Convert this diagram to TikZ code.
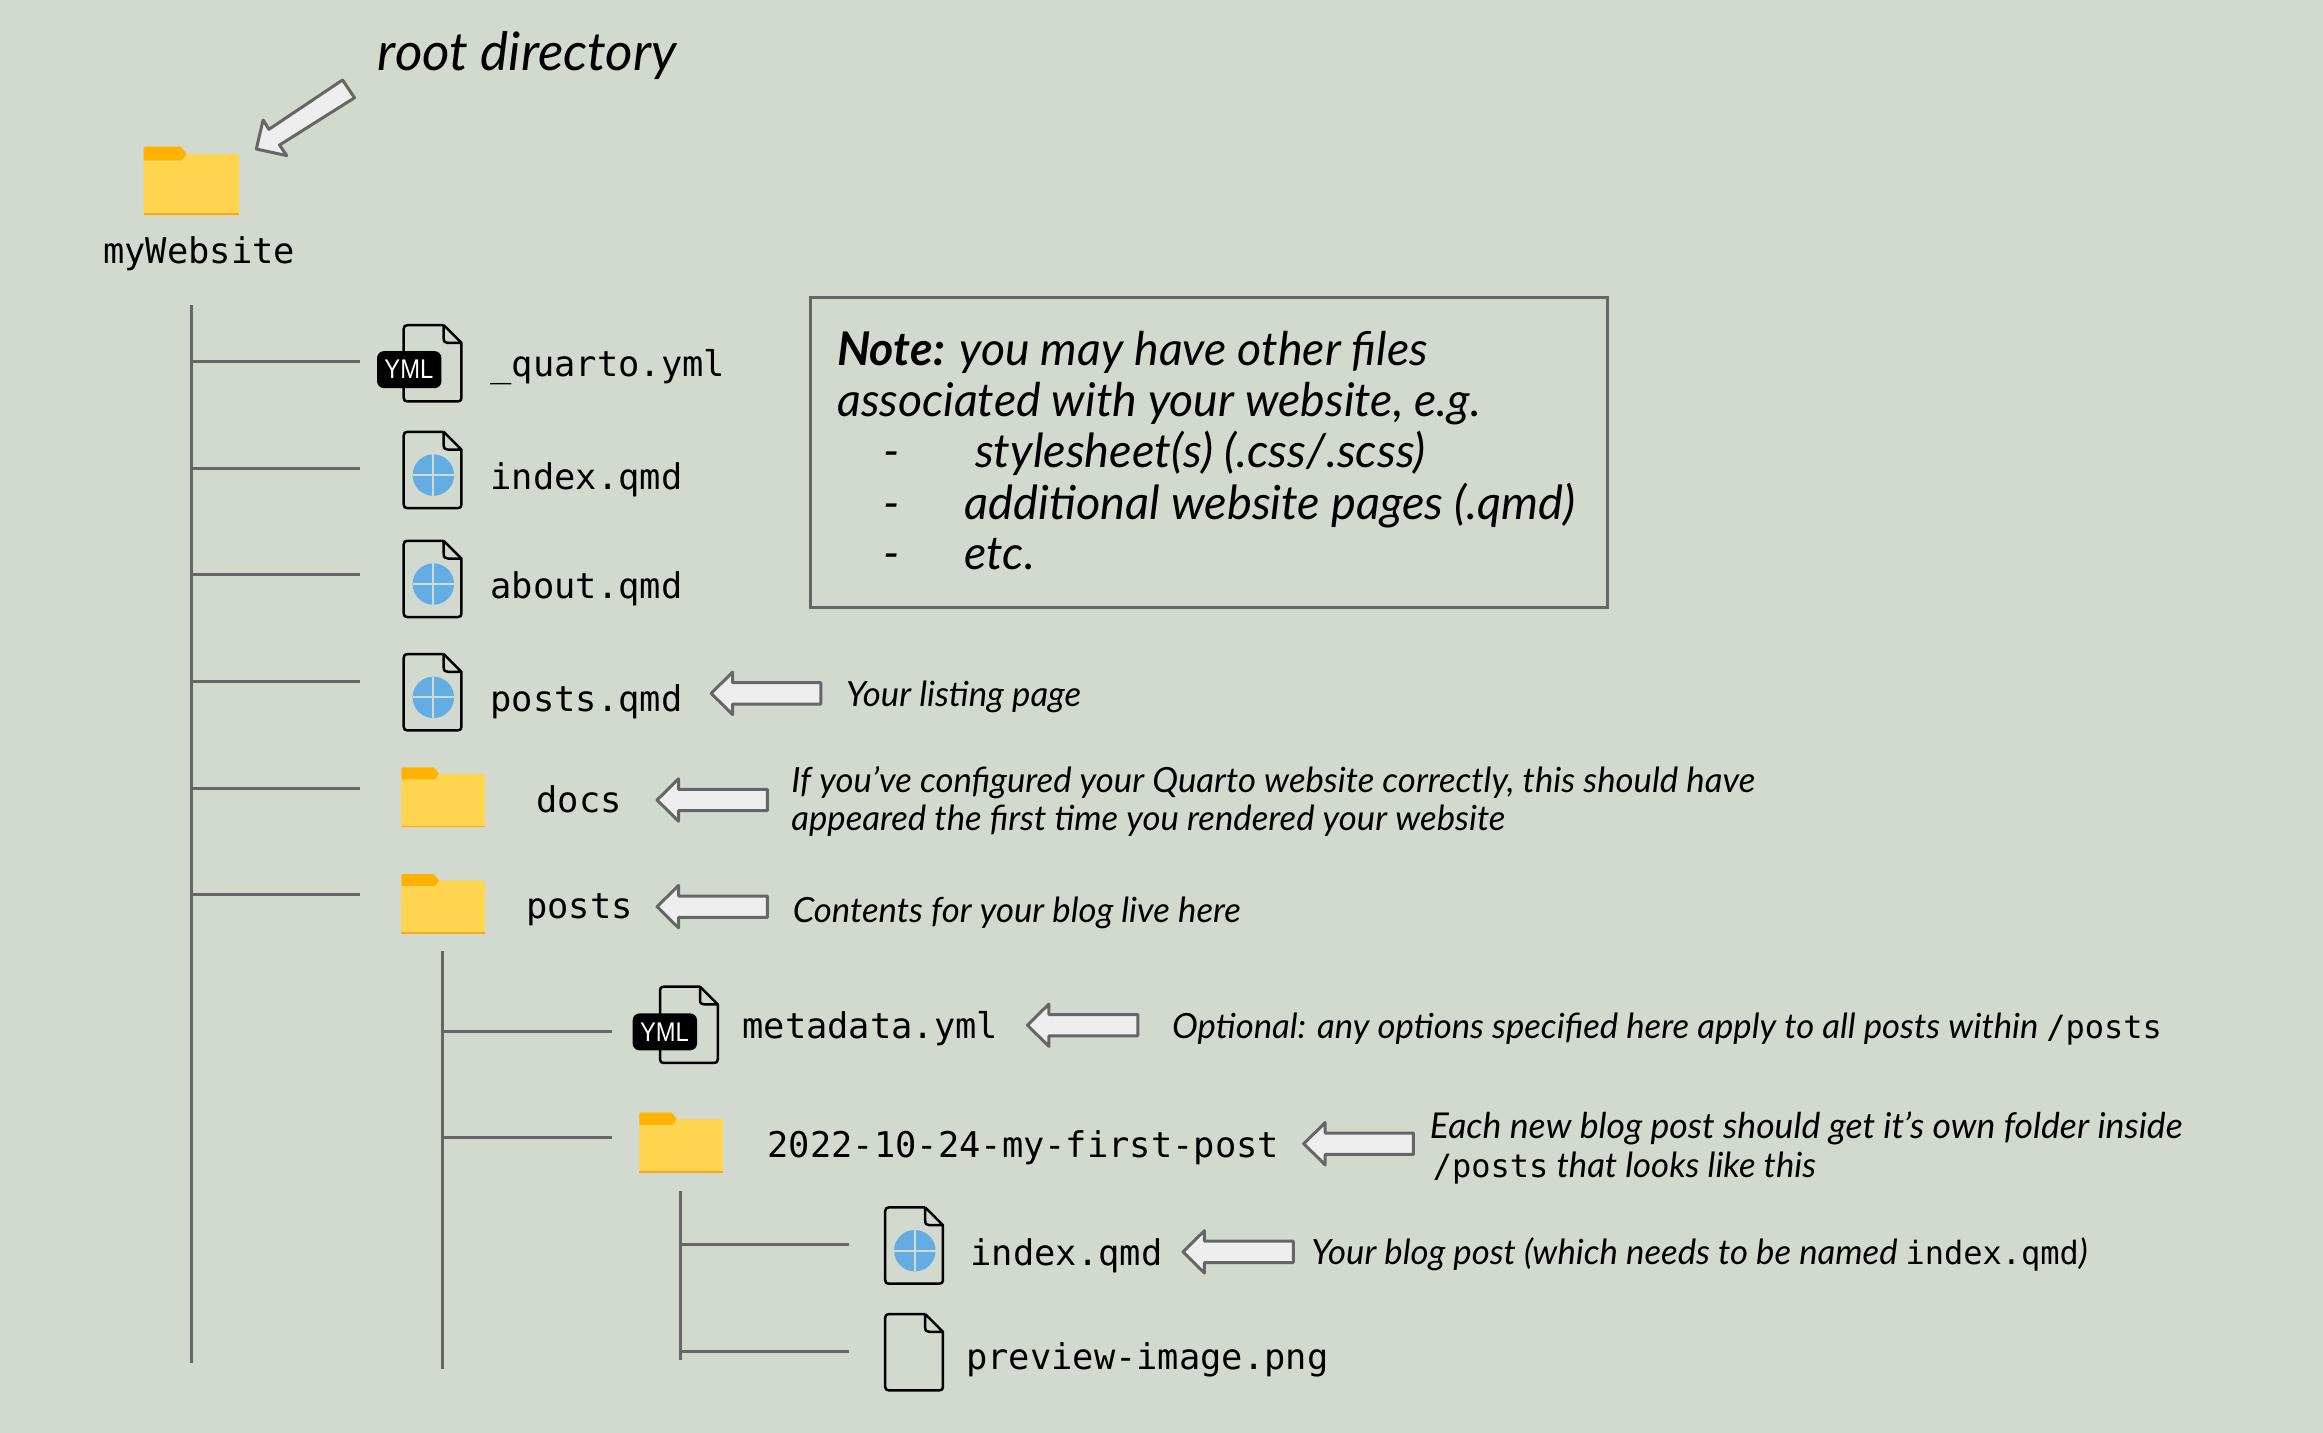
\documentclass[tikz,border=0pt]{standalone}
\usepackage{graphicx}
\usepackage{fontspec}
\setmainfont{Lato}
\setmonofont{DejaVu Sans Mono}
\newfontfamily\badgefont{Liberation Sans}
\definecolor{bgc}{HTML}{D2DACF}
\definecolor{linec}{HTML}{666666}
\definecolor{arrowc}{HTML}{EEEEEE}
\definecolor{folderc}{HTML}{FFD54F}
\definecolor{tabc}{HTML}{FFB300}
\definecolor{stripc}{HTML}{F9A825}
\definecolor{globec}{HTML}{64ADE3}
\tikzset{
  x=1.4815pt,y=-1.4815pt,
  treeline/.style={draw=linec,line width=3pt},
  blockarrow/.style={draw=linec,fill=arrowc,line width=3pt,line join=round},
  filetxt/.style={anchor=west,inner sep=0pt,text height=33pt,text depth=6pt,font=\ttfamily\fontsize{35.4}{42}\selectfont},
  lab/.style={anchor=west,inner sep=0pt,text height=31pt,text depth=5pt,font=\itshape\fontsize{34.7}{40}\selectfont},
  notetxt/.style={anchor=west,inner sep=0pt,text height=41pt,text depth=10pt,font=\itshape\fontsize{46.5}{52}\selectfont},
  folderpic/.pic={
    \fill[tabc] (0,9.5) -- (0,1) .. controls (0,.3) .. (1,0) -- (25,0) -- (29,5) -- (26,9.5) -- cycle;
    \fill[folderc] (0,9.5) -- (26,9.5) -- (29,5) -- (64,5) -- (64.4,5.4) -- (64.4,46.3) -- (0,46.3) -- cycle;
    \fill[stripc] (0,44.8) rectangle (64.4,46.3);
  },
  filepic/.pic={
    \draw[black,line width=2.5pt,line join=round]
      (27,0) -- (2.5,0) .. controls (.8,0) and (0,.8) .. (0,2.5) -- (0,49) .. controls (0,50.7) and (.8,51.5) .. (2.5,51.5)
      -- (36.5,51.5) .. controls (38.2,51.5) and (39,50.7) .. (39,49) -- (39,12) -- (27,0)
      (27,0) -- (27,9) .. controls (27,11.2) and (28,12) .. (30,12) -- (39,12);
  },
  globepic/.pic={
    \fill[globec] (20,29.2) circle[radius=14];
    \draw[bgc,line width=2pt] (6,29.2) -- (34,29.2) (20,15.2) -- (20,43.2);
  },
  badgepic/.pic={
    \fill[black,rounded corners=7pt] (0,0) rectangle (43.5,25);
    \node[text=white,inner sep=0pt,font=\badgefont\fontsize{27}{30}\selectfont] (-t) at (21.5,12.5) {\scalebox{.88}[1]{YML}};
  }
}
\newcommand{\leftarrowblock}[3]{% tip x, tail x, y
  \draw[blockarrow] (#1,#3) -- (#1+14.5,#3-14.3) -- (#1+14.5,#3-7.2) -- (#2,#3-7.2) -- (#2,#3+7.2) -- (#1+14.5,#3+7.2) -- (#1+14.5,#3+14.3) -- cycle;
}
\newcommand{\mono}[1]{{\upshape\ttfamily\fontsize{32}{36}\selectfont #1}}
\begin{document}
\begin{tikzpicture}
\useasboundingbox (0,0) rectangle (1568,967.25);
\fill[bgc] (0,0) rectangle (1568,967.25);

% tree coordinates
\coordinate (mTop) at (129,206); \coordinate (mBot) at (129,920);
\coordinate (pTop) at (299,642); \coordinate (pBot) at (299,924);
\coordinate (fTop) at (459,804); \coordinate (fBot) at (459,918);
\coordinate (b1) at (243,244); \coordinate (b2) at (243,316); \coordinate (b3) at (243,388);
\coordinate (b4) at (243,460); \coordinate (b5) at (243,532); \coordinate (b6) at (243,604);
\coordinate (c1) at (413,696); \coordinate (c2) at (413,768);
\coordinate (d1) at (573,840); \coordinate (d2) at (573,912);
\draw[treeline] (mTop) -- (mBot);
\draw[treeline] (pTop) -- (pBot);
\draw[treeline] (fTop) -- (fBot);
\foreach \b in {b1,b2,b3,b4,b5,b6} \draw[treeline] (mTop |- \b) -- (\b);
\foreach \b in {c1,c2} \draw[treeline] (pTop |- \b) -- (\b);
\foreach \b in {d1,d2} \draw[treeline] (fTop |- \b) -- (\b);

% icons
\pic at (97,99) {folderpic};
\pic[scale=.875] at (271,518) {folderpic};
\pic[scale=.875] at (271,590) {folderpic};
\pic[scale=.875] at (431.5,751) {folderpic};

\pic at (272.5,219.5) {filepic};
\pic at (254.5,237) {badgepic};
\pic at (272.5,291.5) {filepic};
\pic at (272.5,291.5) {globepic};
\pic at (272.5,365) {filepic};
\pic at (272.5,365) {globepic};
\pic at (272.5,441.5) {filepic};
\pic at (272.5,441.5) {globepic};
\pic at (445.5,666) {filepic};
\pic at (427,684) {badgepic};
\pic at (597.5,815) {filepic};
\pic at (597.5,815) {globepic};
\pic at (597.5,887) {filepic};

% file names
\node[filetxt,anchor=center] (nRoot) at (134.5,169) {myWebsite};
\node[filetxt] (nQuarto) at (331,245) {\_quarto.yml};
\node[filetxt] (nIndex) at (331,321) {index.qmd};
\node[filetxt] (nAbout) at (331,395) {about.qmd};
\node[filetxt] (nPosts) at (331,471) {posts.qmd};
\node[filetxt] (nDocs) at (362,539) {docs};
\node[filetxt] (nPostsDir) at (355,611) {posts};
\node[filetxt] (nMeta) at (501,692) {metadata.yml};
\node[filetxt] (nFirst) at (518,772) {2022-10-24-my-first-post};
\node[filetxt] (nIndex2) at (655,845) {index.qmd};
\node[filetxt] (nPrev) at (652,915) {preview-image.png};

% block arrows
\draw[blockarrow] (173,100.6) -- (177.6,81) -- (181.5,87.3) -- (231.2,54) -- (239.3,66) -- (188.7,97.9) -- (193.5,105) -- cycle;
\leftarrowblock{480}{554}{468}
\leftarrowblock{443.5}{518}{540}
\leftarrowblock{443.5}{518}{612}
\leftarrowblock{693.5}{768}{692}
\leftarrowblock{880}{954}{772}
\leftarrowblock{798.5}{873}{845}

% annotations
\node[notetxt,text height=49pt,text depth=12pt,font=\itshape\fontsize{53}{60}\selectfont] (tRoot) at (255,35) {root directory};
\node[lab] (t1) at (571,468) {Your listing page};
\node[lab] (t2) at (534,526) {If you’ve configured your Quarto website correctly, this should have};
\node[lab] (t3) at (534,552) {appeared the first time you rendered your website};
\node[lab] (t4) at (535,614) {Contents for your blog live here};
\node[lab] (t5) at (791,692) {Optional: any options specified here apply to all posts within \mono{/posts}};
\node[lab,font=\itshape\fontsize{35.6}{40}\selectfont] (t6) at (965,760) {Each new blog post should get it’s own folder inside};
\node[lab] (t7) at (967,786) {\mono{/posts} that looks like this};
\node[lab] (t8) at (885,845) {Your blog post (which needs to be named \mono{index.qmd})};

% note box
\draw[draw=linec,line width=3pt] (547,200.5) rectangle (1085,410);
\node[notetxt] (n1) at (565,236) {\textbf{Note:} you may have other files};
\node[notetxt] (n2) at (565,271) {associated with your website, e.g.};
\node[notetxt] (n3d) at (596,305) {-};
\node[notetxt,font=\itshape\fontsize{47}{52}\selectfont] (n3) at (658,305) {stylesheet(s) (.css/.scss)};
\node[notetxt] (n4d) at (596,340) {-};
\node[notetxt,font=\itshape\fontsize{47}{52}\selectfont] (n4) at (651,340) {additional website pages (.qmd)};
\node[notetxt] (n5d) at (596,374) {-};
\node[notetxt] (n5) at (651,374) {etc.};
\end{tikzpicture}
\end{document}
